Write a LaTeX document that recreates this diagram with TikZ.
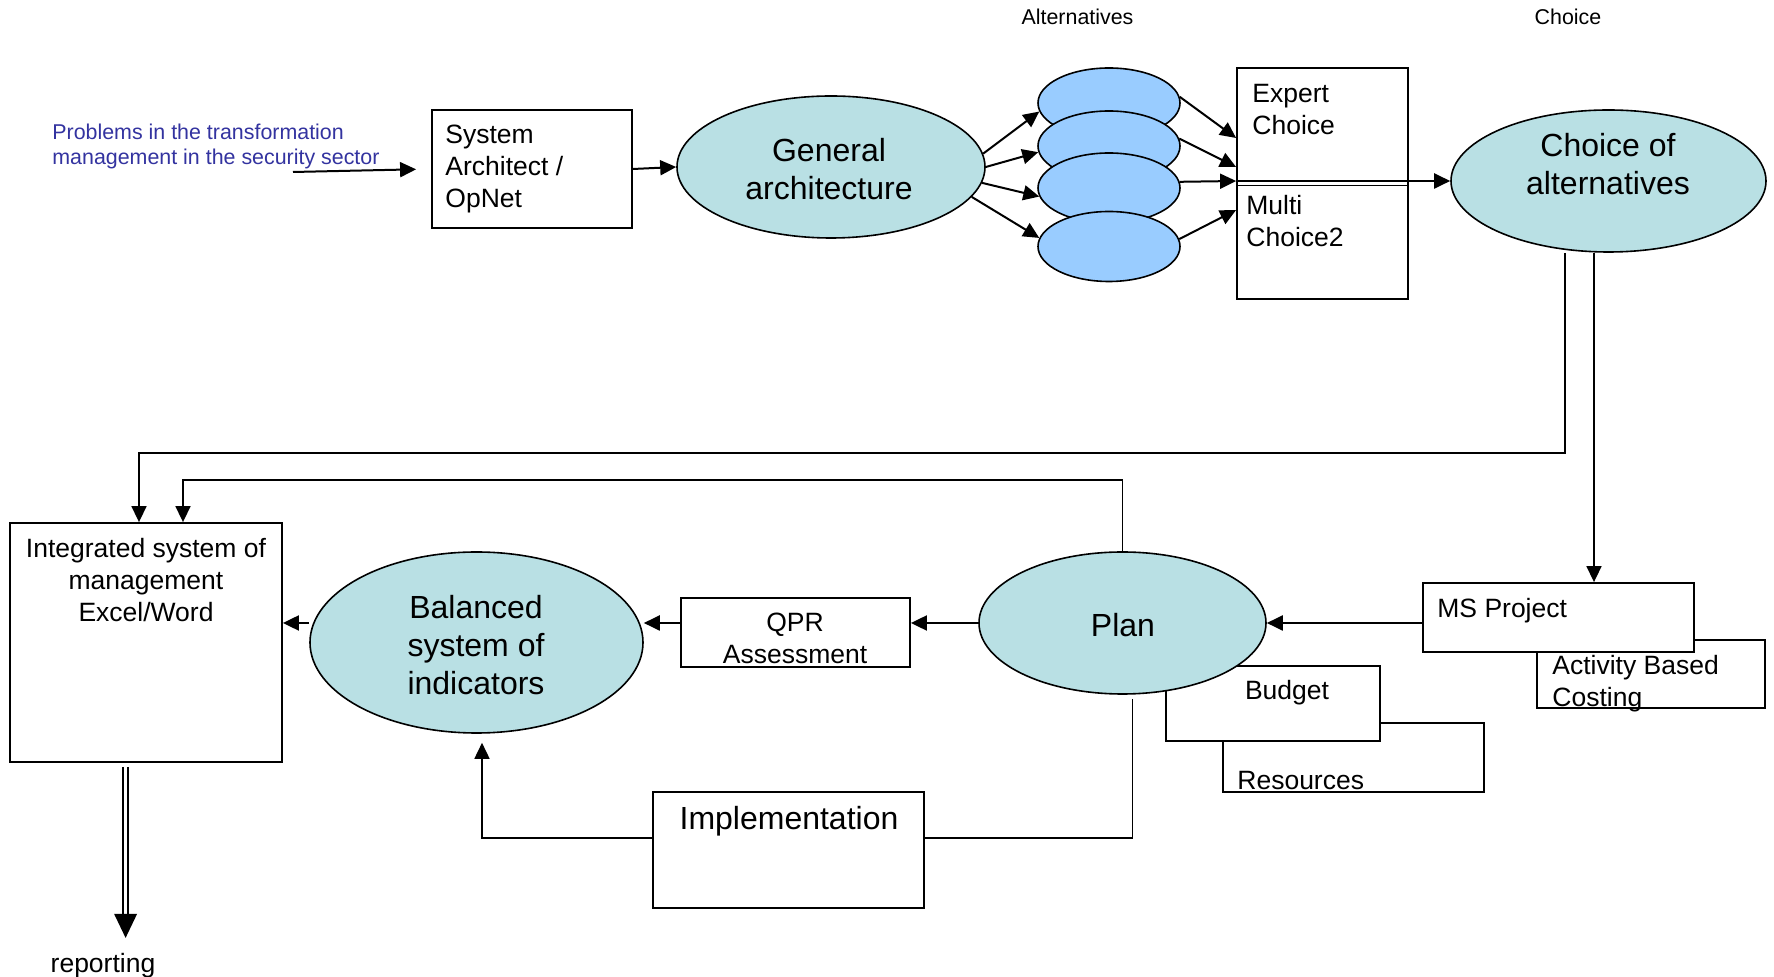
\documentclass[tikz,border=0pt]{standalone}
\usepackage{fontspec}
\setmainfont{Liberation Sans}
\usetikzlibrary{arrows.meta,shapes.geometric}
\definecolor{tealfill}{RGB}{185,224,228}
\definecolor{bluefill}{RGB}{153,204,255}
\definecolor{probblue}{RGB}{51,51,160}
\newcommand\fmed{\fontsize{13.25pt}{16pt}\selectfont}
\newcommand\flarge{\fontsize{16pt}{19pt}\selectfont}
\newcommand\fsmall{\fontsize{10.7pt}{12.5pt}\selectfont}
\begin{document}
\begin{tikzpicture}[x=0.5pt,y=-0.5pt,
  box/.style={draw, line width=0.9pt, fill=white, inner sep=0pt},
  ell/.style={ellipse, draw, line width=0.8pt, fill=tealfill, inner sep=0pt},
  bell/.style={ellipse, draw, line width=0.8pt, fill=bluefill, inner sep=0pt},
  txt/.style={inner sep=0pt, font=\fmed, align=left},
  arr/.style={line width=1pt, -{Triangle[length=8pt,width=7.5pt]}},
  thinline/.style={line width=0.8pt}]
\useasboundingbox (0,0) rectangle (1774,977);
\fill[white] (0,0) rectangle (1774,977);

% top row
\node[txt, font=\fsmall, text=probblue, anchor=west] (prob) at (52,146) {Problems in the transformation\\management in the security sector};
\node[box, minimum width=100pt, minimum height=59pt] (sa) at (532,169) {};
\node[txt, anchor=west] (satxt) at (445,169.5) {System\\Architect /\\OpNet};
\node[ell, minimum width=154pt, minimum height=71pt] (ga) at (831,167) {};
\node[txt, font=\flarge, align=center] (gatxt) at (829,169) {General\\architecture};

\node[txt, font=\fsmall] (lalt) at (1077.5,17) {Alternatives};
\node[txt, font=\fsmall] (lch) at (1568,17) {Choice};

\node[bell, minimum width=71pt, minimum height=35pt] (e1) at (1109,103) {};
\node[bell, minimum width=71pt, minimum height=35pt] (e2) at (1109,146) {};
\node[bell, minimum width=71pt, minimum height=35pt] (e3) at (1109,188) {};
\node[bell, minimum width=71pt, minimum height=35pt] (e4) at (1109,246.5) {};

\node[box, minimum width=85.5pt, minimum height=115.5pt] (alt) at (1322.5,183.5) {};
\node[txt, anchor=west] (ectxt) at (1252,109.5) {Expert\\Choice};
\node[txt, anchor=west] (mctxt) at (1246,221) {Multi\\Choice2};

\node[ell, minimum width=157.5pt, minimum height=71pt] (ch) at (1608.5,181) {};
\node[txt, font=\flarge, align=center] (chtxt) at (1608,164.5) {Choice of\\alternatives};

% bottom row
\node[box, minimum width=136pt, minimum height=119.5pt] (isys) at (146,642.5) {};
\node[txt, align=center] (isystxt) at (146,580) {Integrated system of\\management\\Excel/Word};
\node[ell, minimum width=166.5pt, minimum height=90.5pt] (bsi) at (476.5,642.5) {};
\node[txt, font=\flarge, align=center] (bsitxt) at (476,645) {Balanced\\system of\\indicators};
\node[box, minimum width=114.5pt, minimum height=34.5pt] (qpr) at (795.5,632.5) {};
\node[txt, align=center] (qprtxt) at (795,638) {QPR\\Assessment};

\node[box, minimum width=130.5pt, minimum height=34.5pt] (res) at (1353.5,757.5) {};
\node[txt, anchor=west] (restxt) at (1237,781) {Resources};
\node[box, minimum width=107pt, minimum height=37.5pt] (bud) at (1273,703.5) {};
\node[txt] (budtxt) at (1287,693) {Budget};
\node[ell, minimum width=143.5pt, minimum height=71pt] (plan) at (1122.5,623) {};
\node[txt, font=\flarge] (plantxt) at (1123,625) {Plan};

\node[box, minimum width=114pt, minimum height=34pt] (abc) at (1651,674) {};
\node[txt, anchor=west] (abctxt) at (1552,683.5) {Activity Based\\Costing};
\node[box, minimum width=135.5pt, minimum height=34.5pt] (ms) at (1558.5,617.5) {};
\node[txt, anchor=west] (mstxt) at (1437,611) {MS Project};

\node[box, minimum width=135.5pt, minimum height=58pt] (impl) at (788.5,850) {};
\node[txt, font=\flarge] (impltxt) at (789,821.5) {Implementation};

\node[txt] (rep) at (103,965.5) {reporting};

% connectors top
\coordinate (pstart) at (293,172);
\draw[arr, shorten >=7.5pt] (pstart) -- (sa.west);
\draw[arr] (sa.east) -- (ga.west);
\draw[arr] (ga.5) -- (e1.187);
\draw[arr] (ga.0) -- (e2.185);
\draw[arr] (ga.-6) -- (e3.187);
\draw[arr] (ga.-12) -- (e4.173);
\draw[arr] (e1.5) -- ([yshift=22.75pt]alt.west);
\draw[arr] (e2.6) -- ([yshift=8.25pt]alt.west);
\draw[arr] (e3.5) -- (ch.west -| alt.west);
\draw[arr] (e4.6) -- ([yshift=-13.25pt]alt.west);
\draw[thinline] ([yshift=-1pt]alt.west) -- ([yshift=-1pt]alt.east);
\draw[arr] (ch.west -| alt.west) -- (ch.west);

% connectors bottom
\draw[arr, line width=0.8pt] ([xshift=-21.75pt]ch.south) -- ++(0,-100pt) -| ([xshift=-3.5pt]isys.north);
\draw[arr, line width=0.8pt] (plan.north) -- ++(0,35.5pt) -| ([xshift=18.5pt]isys.north);
\draw[arr, line width=0.8pt] ([xshift=-7.25pt]ch.south) -- ([xshift=-7.25pt]ch.south |- ms.north);
\draw[arr] (ms.west |- plan.east) -- (plan.east);
\draw[arr] (plan.west) -- (plan.west -| qpr.east);
\draw[arr] (plan.west -| qpr.west) -- (plan.west -| bsi.east);
\draw[arr] (plan.west -| bsi.west) -- (plan.west -| isys.east);
\draw[arr, line width=0.8pt, shorten >=4.5pt] ([yshift=6pt]impl.west) -| ([xshift=2.75pt]bsi.south);
\draw[thinline] ([xshift=5pt,yshift=-2pt]plan.south) |- ([yshift=6pt]impl.east);

% reporting double arrow
\coordinate (rtop) at ([xshift=-10.2pt,yshift=-2pt]isys.south);
\draw[line width=0.9pt] ([xshift=-1.35pt]rtop) -- ([xshift=-1.35pt,yshift=-74pt]rtop);
\draw[line width=0.9pt] ([xshift=1.35pt]rtop) -- ([xshift=1.35pt,yshift=-74pt]rtop);
\fill ([xshift=-5.75pt,yshift=-73.5pt]rtop) -- ([xshift=5.75pt,yshift=-73.5pt]rtop) -- ([yshift=-85.5pt]rtop) -- cycle;
\end{tikzpicture}
\end{document}
